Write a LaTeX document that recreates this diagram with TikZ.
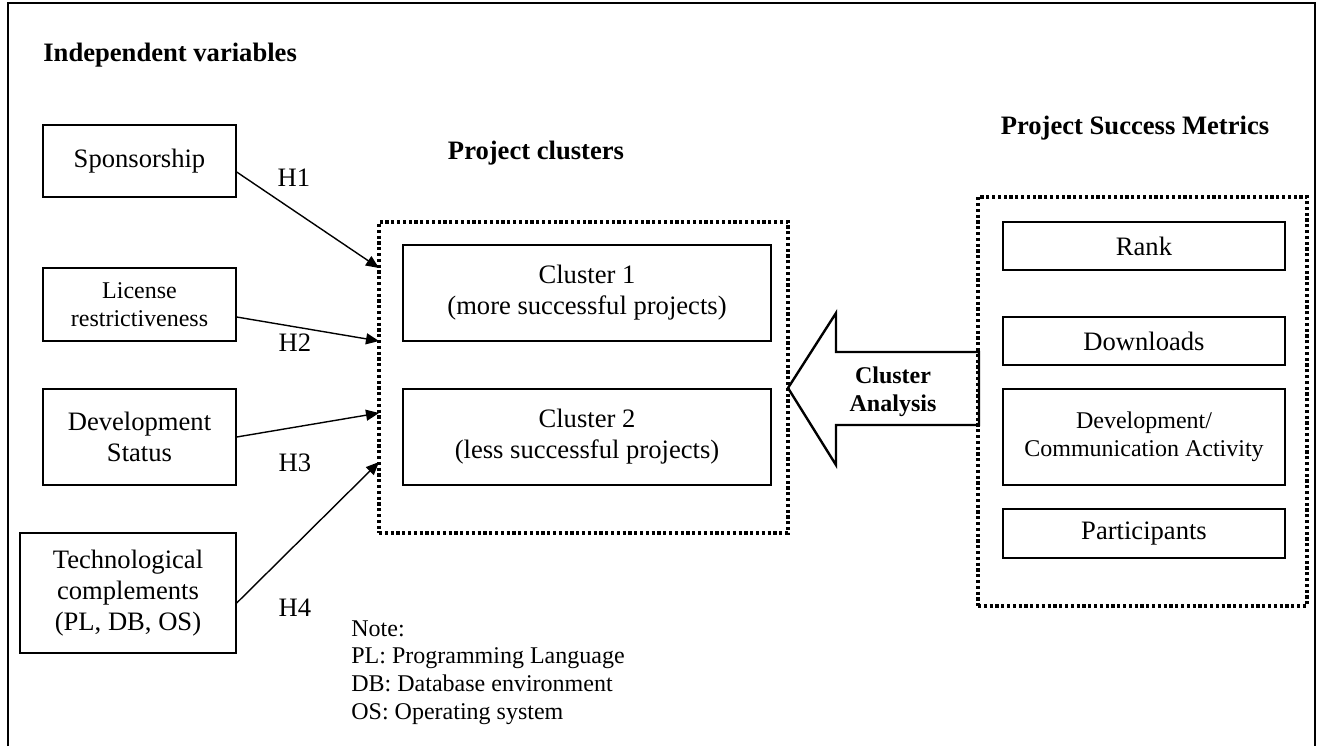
\documentclass[tikz,border=0pt]{standalone}
\usepackage{fontspec}
\setmainfont{Liberation Serif}
\usetikzlibrary{arrows.meta, positioning}
\newcommand{\bigtext}{\fontsize{13.3}{15.5}\selectfont}
\newcommand{\smalltext}{\fontsize{12}{14}\selectfont}
\tikzstyle{varbox} = [rectangle, draw=black, line width=0.7pt, minimum width=96.5pt, align=center, inner sep=2pt, font=\bigtext]
\tikzstyle{metric} = [rectangle, draw=black, line width=0.7pt, minimum width=141pt, minimum height=24pt, align=center, inner sep=2pt, font=\bigtext]
\tikzstyle{group} = [rectangle, draw=black, line width=1.7pt, dash pattern=on 1.6pt off 1.3pt, inner sep=0pt]
\tikzstyle{heading} = [font=\bigtext\bfseries, inner sep=0pt]
\tikzstyle{hyp} = [font=\bigtext, inner sep=0pt]
\tikzstyle{arrow} = [line width=0.7pt, ->, >={Triangle[length=6.5pt,width=5.5pt]}]

\begin{document}
\begin{tikzpicture}[x=0.5pt, y=-0.5pt]
\useasboundingbox (0,0) rectangle (1317,746);
% Outer frame
\draw[line width=0.8pt] (8,746) -- (8,3) -- (1315,3) -- (1315,746);

% Independent variables
\node (indep) [heading, anchor=west] at (43,55) {Independent variables};
\node (spons) [varbox, minimum height=36pt] at (139.5,161) {Sponsorship};
\node (lic) [varbox, minimum height=36.5pt, font=\smalltext] at (139.5,304.5) {License\\restrictiveness};
\node (dev) [varbox, minimum height=48pt] at (139.5,437) {Development\\Status};
\node (tech) [varbox, minimum width=108pt, minimum height=60pt] at (128,593) {Technological\\complements\\(PL, DB, OS)};

% Project clusters
\node (clhead) [heading] at (536,153) {Project clusters};
\node (clusters) [group, minimum width=204.5pt, minimum height=155.5pt] at (583.5,377.5) {};
\node (cl1) [varbox, minimum width=184pt, minimum height=48pt] at (587,293) {Cluster 1\\(more successful projects)};
\node (cl2) [varbox, minimum width=184pt, minimum height=48pt] at (587,437) {Cluster 2\\(less successful projects)};

% Project success metrics
\node (mhead) [heading] at (1135,128) {Project Success Metrics};
\node (metrics) [group, minimum width=164.5pt, minimum height=204.5pt] at (1142.5,401.5) {};
\node (rank) [metric] at (1144,246) {Rank};
\node (downloads) [metric] at (1144,341) {Downloads};
\node (devcomm) [metric, minimum height=48pt, font=\smalltext] at (1144,437) {Development/\\Communication Activity};
\node (participants) [metric, minimum height=24.5pt] at (1144,533.5) {Participants};

% Cluster analysis arrow
\draw[line width=1.2pt, line join=miter] (788,388) -- (836,313) -- (836,352) -- (979,352) -- (979,425) -- (836,425) -- (836,465) -- cycle;
\node (analysis) [font=\smalltext\bfseries, align=center, inner sep=0pt] at (893,392) {Cluster\\Analysis};

% Hypotheses
\coordinate (in1) at (379,268);
\coordinate (in2) at (379,341);
\coordinate (in3) at (379,413);
\coordinate (in4) at (379,462);
\draw [arrow] ([yshift=-5.5pt]spons.east) -- (in1);
\draw [arrow] ([yshift=-6.25pt]lic.east) -- (in2);
\draw [arrow] (dev.east) -- (in3);
\draw [arrow] ([yshift=-5pt]tech.east) -- (in4);
\node (h1) [hyp] at (294,178) {H1};
\node (h2) [hyp] at (295,343) {H2};
\node (h3) [hyp] at (295,463) {H3};
\node (h4) [hyp] at (295,608) {H4};

% Note
\node (note) [font=\fontsize{12}{13.85}\selectfont, align=left, anchor=north west, inner sep=0pt] at (351,620) {Note:\\PL: Programming Language\\DB: Database environment\\OS: Operating system};
\end{tikzpicture}
\end{document}
